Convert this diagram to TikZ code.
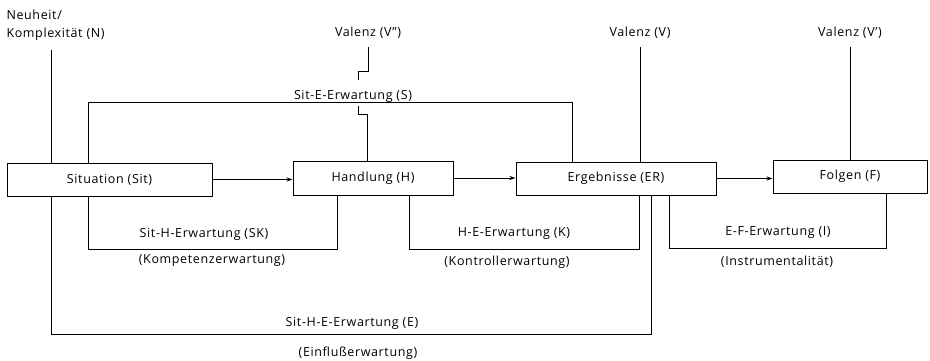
\documentclass[tikz,border=0pt]{standalone}
\usepackage{fontspec}
\setmainfont{Open Sans}[LetterSpace=5]
\usetikzlibrary{arrows.meta}
\begin{document}
\begin{tikzpicture}[x=1pt,y=-1pt, line width=1pt,
  txt/.style={font=\fontsize{12.5}{14}\selectfont},
  box/.style={draw, txt, minimum height=33pt, inner sep=0pt},
  lbl/.style={txt, inner sep=0pt},
  arr/.style={-{Stealth[length=6pt,width=4pt]}}]
\useasboundingbox (0,0) rectangle (930,361);
% boxes
\node[box, minimum width=205pt] (sit) at (109.5,179.5) {Situation (Sit)};
\node[box, minimum width=160pt, minimum height=34pt] (hand) at (373,178) {Handlung (H)};
\node[box, minimum width=200pt] (erg) at (616,178.5) {Ergebnisse (ER)};
\node[box, minimum width=154pt] (folg) at (850,176.5) {Folgen (F)};
% top labels
\node[lbl, anchor=west] (n1) at (6,15) {Neuheit/};
\node[lbl, anchor=west] (n2) at (6,34) {Komplexität (N)};
\node[lbl] (vdd) at (368,33) {Valenz (V'')};
\node[lbl] (vv) at (640,33) {Valenz (V)};
\node[lbl] (vd) at (850,33) {Valenz (V')};
\node[lbl] (sl) at (353,96) {Sit-E-Erwartung (S)};
% bottom labels
\node[lbl] (skl) at (204,234) {Sit-H-Erwartung (SK)};
\node[lbl] (skk) at (212,261) {(Kompetenzerwartung)};
\node[lbl] (kl) at (514,234) {H-E-Erwartung (K)};
\node[lbl] (kk) at (507,262) {(Kontrollerwartung)};
\node[lbl] (il) at (778,233) {E-F-Erwartung (I)};
\node[lbl] (ii) at (777,262) {(Instrumentalität)};
\node[lbl] (el) at (352,323) {Sit-H-E-Erwartung (E)};
\node[lbl] (ee) at (358,353) {(Einflußerwartung)};
% coordinates
\coordinate (nx) at (51,50);
\coordinate (eb) at (651,334);
\coordinate (s1) at (88,103);
\coordinate (s2) at (572,103);
\coordinate (sk1) at (88,249);
\coordinate (sk2) at (337,249);
\coordinate (k1) at (409,249);
\coordinate (k2) at (639,249);
\coordinate (i1) at (669,248);
\coordinate (i2) at (886,248);
% arrows
\draw[arr] (sit.east) -- (sit.east -| hand.west);
\draw[arr] (hand.east) -- (hand.east -| erg.west);
\draw[arr] (erg.east) -- (erg.east -| folg.west);
% N
\draw (nx) -- (nx |- sit.north);
\draw (sit.south -| nx) |- (eb) -- (erg.south -| eb);
% valences
\draw ([yshift=-8pt]vv.south) -- (vv.south |- erg.north);
\draw ([yshift=-8pt]vd.south) -- (vd.south |- folg.north);
\draw ([yshift=-8pt]vdd.south) -- (368,72) -- (358,72) -- (358,80);
\draw (358,106) -- (358,115) -- (367,115) -- (hand.north -| 367,0);
% S
\draw (sit.north -| s1) |- (s2) -- (erg.north -| s2);
% brackets
\draw (sit.south -| sk1) |- (sk2) -- (hand.south -| sk2);
\draw (hand.south -| k1) |- (k2) -- (erg.south -| k2);
\draw (erg.south -| i1) |- (i2) -- (folg.south -| i2);
\end{tikzpicture}
\end{document}
